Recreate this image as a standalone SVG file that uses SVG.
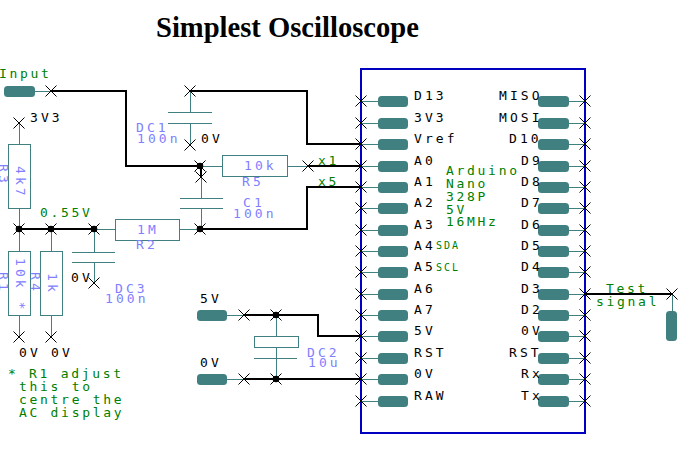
<svg xmlns="http://www.w3.org/2000/svg" width="690" height="460" viewBox="0 0 690 460">
<style>
text{font-family:"DejaVu Sans Mono","Liberation Mono",monospace;font-size:13px;letter-spacing:3.1px}
.k{fill:#000}.v{fill:#8080ff}
.g,.g text{fill:#008000;letter-spacing:2.7px}
.s{font-size:10px;letter-spacing:2px}
.t{font-family:"Liberation Serif","Times New Roman",serif;font-size:28.600px;font-weight:bold;letter-spacing:0;fill:#000}
.thin{stroke:#408080;stroke-width:1;fill:none;shape-rendering:crispEdges}
.part{stroke:#408080;stroke-width:1;fill:#fff;shape-rendering:crispEdges}
.wire{stroke:#000;stroke-width:2;fill:none;shape-rendering:crispEdges}
.pad{fill:#408080}
.x{stroke:#000;stroke-width:1;fill:none}
</style>
<defs>
<path id="c" class="x" d="M-5.500-5.500L5.500 5.500M-5.500 5.500L5.500-5.500"/>
<circle id="d" r="3.300" fill="#000"/>
<g id="pl"><path class="thin" d="M361 0H378"/><rect class="pad" x="378" y="-5" width="30" height="11" rx="3.500"/><use href="#c" x="361"/></g>
<g id="pr"><path class="thin" d="M569 0H585"/><rect class="pad" x="538" y="-5" width="31" height="11" rx="3.500"/><use href="#c" x="585"/></g>
</defs>
<text id="title" class="t" x="156" y="37">Simplest Oscilloscope</text>

<g id="connectors">
<path class="thin" d="M34 91H51M19 123V144M19 208V229M19 229V251M19 315V337M51 229V251M51 315V337M94 229V252M94 262V283M94 229H115M179 229H200M190 91V112M190 123V145M200 166H222M287 166H308M201 176V198M201 208V229M227 315H244M227 379H244M276 315V336M276 347V358M276 358V379M672 294V311"/>
<path class="wire" d="M51 91H126V166H200M190 91H307V144H361M19 229H94M200 229H307V187H361M308 166H361M201 166V176M244 315H318V336H361M244 379H361M585 294H672"/>
</g>

<g id="chip">
<rect x="361" y="69" width="224" height="364" fill="none" stroke="#0000c0" stroke-width="2" shape-rendering="crispEdges"/>
<g class="g"><text x="446" y="175">Arduino</text><text x="446" y="188">Nano</text><text x="446" y="201">328P</text><text x="446" y="214">5V</text><text x="446" y="226">16MHz</text></g>
<text class="g s" x="436" y="249">SDA</text><text class="g s" x="436" y="271">SCL</text>
</g>

<g id="pins-left">
<g id="pin-D13"><use href="#pl" y="101"/><text x="414" y="100">D13</text></g>
<g id="pin-3V3"><use href="#pl" y="123"/><text x="414" y="122">3V3</text></g>
<g id="pin-Vref"><use href="#pl" y="144"/><text x="414" y="143">Vref</text></g>
<g id="pin-A0"><use href="#pl" y="166"/><text x="414" y="165">A0</text></g>
<g id="pin-A1"><use href="#pl" y="187"/><text x="414" y="186">A1</text></g>
<g id="pin-A2"><use href="#pl" y="208"/><text x="414" y="207">A2</text></g>
<g id="pin-A3"><use href="#pl" y="230"/><text x="414" y="229">A3</text></g>
<g id="pin-A4"><use href="#pl" y="251"/><text x="414" y="250">A4</text></g>
<g id="pin-A5"><use href="#pl" y="272"/><text x="414" y="271">A5</text></g>
<g id="pin-A6"><use href="#pl" y="294"/><text x="414" y="293">A6</text></g>
<g id="pin-A7"><use href="#pl" y="315"/><text x="414" y="314">A7</text></g>
<g id="pin-5V"><use href="#pl" y="336"/><text x="414" y="335">5V</text></g>
<g id="pin-RST"><use href="#pl" y="358"/><text x="414" y="357">RST</text></g>
<g id="pin-0V"><use href="#pl" y="379"/><text x="414" y="378">0V</text></g>
<g id="pin-RAW"><use href="#pl" y="401"/><text x="414" y="400">RAW</text></g>
</g>

<g id="pins-right">
<g id="pin-MISO"><use href="#pr" y="101"/><text x="499" y="100">MISO</text></g>
<g id="pin-MOSI"><use href="#pr" y="123"/><text x="499" y="122">MOSI</text></g>
<g id="pin-D10"><use href="#pr" y="144"/><text x="509" y="143">D10</text></g>
<g id="pin-D9"><use href="#pr" y="166"/><text x="521" y="165">D9</text></g>
<g id="pin-D8"><use href="#pr" y="187"/><text x="521" y="186">D8</text></g>
<g id="pin-D7"><use href="#pr" y="208"/><text x="521" y="207">D7</text></g>
<g id="pin-D6"><use href="#pr" y="230"/><text x="521" y="229">D6</text></g>
<g id="pin-D5"><use href="#pr" y="251"/><text x="521" y="250">D5</text></g>
<g id="pin-D4"><use href="#pr" y="272"/><text x="521" y="271">D4</text></g>
<g id="pin-D3"><use href="#pr" y="294"/><text x="521" y="293">D3</text></g>
<g id="pin-D2"><use href="#pr" y="315"/><text x="521" y="314">D2</text></g>
<g id="pin-0V-r"><use href="#pr" y="336"/><text x="521" y="335">0V</text></g>
<g id="pin-RST-r"><use href="#pr" y="358"/><text x="509" y="357">RST</text></g>
<g id="pin-Rx"><use href="#pr" y="379"/><text x="521" y="378">Rx</text></g>
<g id="pin-Tx"><use href="#pr" y="401"/><text x="521" y="400">Tx</text></g>
</g>

<g id="input"><rect class="pad" x="4" y="86" width="31" height="11" rx="3.500"/><use href="#c" x="51" y="91"/><text class="g" x="-1" y="78">Input</text></g>

<g id="DC1"><path class="thin" d="M168 112H212M168 123H212"/><use href="#c" x="190" y="91"/><use href="#c" x="190" y="145"/>
<text class="v" x="136" y="132">DC1</text><text class="v" x="137" y="143">100n</text><text x="201" y="143">0V</text></g>

<g id="R3"><rect class="part" x="8" y="144" width="22" height="64"/><use href="#c" x="19" y="123"/><text x="30" y="122">3V3</text>
<text class="v" transform="translate(-1 164) rotate(90)">R3</text>
<text class="v" transform="translate(16 166) rotate(90)">4k7</text></g>

<g id="R1"><rect class="part" x="8" y="251" width="22" height="64"/><use href="#c" x="19" y="337"/><text x="19" y="357">0V</text>
<text class="v" transform="translate(-1 272) rotate(90)">R1</text>
<text class="v" transform="translate(16 258) rotate(90)">10k *</text></g>

<g id="R4"><rect class="part" x="40" y="251" width="22" height="64"/><use href="#c" x="51" y="337"/><text x="51" y="357">0V</text>
<text class="v" transform="translate(31 272) rotate(90)">R4</text>
<text class="v" transform="translate(48 273) rotate(90)">1k</text></g>

<g id="DC3"><path class="thin" d="M72 252H115M72 262H115"/><use href="#c" x="94" y="283"/><text x="71" y="282">0V</text>
<text class="v" x="115" y="293">DC3</text><text class="v" x="105" y="303">100n</text></g>

<g id="R2"><rect class="part" x="115" y="219" width="64" height="21"/><text class="v" x="137" y="234">1M</text><text class="v" x="136" y="249">R2</text></g>

<g id="R5"><rect class="part" x="222" y="155" width="65" height="21"/><text class="v" x="244" y="170">10k</text><text class="v" x="242" y="186">R5</text><use href="#c" x="308" y="166"/></g>

<g id="C1"><path class="thin" d="M180 198H223M180 208H223"/><use href="#c" x="201" y="177"/>
<text class="v" x="243" y="207">C1</text><text class="v" x="233" y="218">100n</text></g>

<g id="DC2"><rect class="part" x="254" y="336" width="44" height="11"/><path class="thin" d="M254 358H297"/>
<text class="v" x="307" y="357">DC2</text><text class="v" x="308" y="367">10u</text></g>

<g id="in-5V"><rect class="pad" x="197" y="310" width="30" height="11" rx="3.500"/><use href="#c" x="244" y="315"/><text x="200" y="303">5V</text></g>
<g id="in-0V"><rect class="pad" x="197" y="374" width="30" height="11" rx="3.500"/><use href="#c" x="244" y="379"/><text x="200" y="367">0V</text></g>

<g id="test"><rect class="pad" x="666" y="311" width="11" height="30" rx="3.500"/><use href="#c" x="672" y="294"/><text class="g" x="606" y="293">Test</text><text class="g" x="596" y="306">signal</text></g>

<g id="junctions">
<use href="#c" x="19" y="229"/><use href="#c" x="51" y="229"/><use href="#c" x="94" y="229"/><use href="#c" x="200" y="166"/><use href="#c" x="200" y="229"/><use href="#c" x="276" y="315"/><use href="#c" x="276" y="379"/>
<use href="#d" x="19" y="229"/><use href="#d" x="51" y="229"/><use href="#d" x="94" y="229"/><use href="#d" x="200" y="166"/><use href="#d" x="200" y="229"/><use href="#d" x="276" y="315"/><use href="#d" x="276" y="379"/>
</g>

<g id="notes">
<text class="g" x="40" y="217">0.55V</text>
<text class="g" x="318" y="165">x1</text><text class="g" x="318" y="186">x5</text>
<text class="g" x="8" y="378">* R1 adjust</text><text class="g" x="19" y="391">this to</text><text class="g" x="19" y="404">centre the</text><text class="g" x="19" y="417">AC display</text>
</g>
</svg>
